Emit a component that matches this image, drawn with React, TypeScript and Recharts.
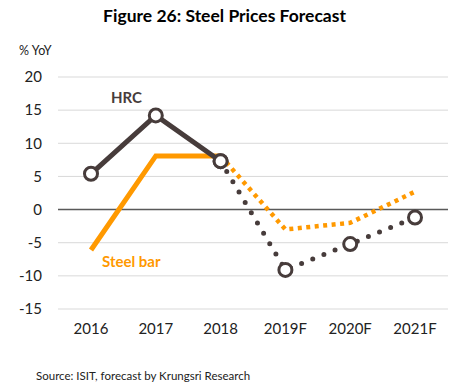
import { LineChart, Line, XAxis, YAxis, CartesianGrid, ReferenceLine } from 'recharts';

const years = ['2016', '2017', '2018', '2019F', '2020F', '2021F'];
const hrcActual = [5.4, 14.2, 7.3, null, null, null];
const hrcForecast = [null, null, 7.3, -9.1, -5.2, -1.2];
const steelActual = [-6.1, 8.1, 8.1, null, null, null];
const steelForecast = [null, null, 8.1, -3.0, -2.0, 2.7];
const yTicks = [-15, -10, -5, 0, 5, 10, 15, 20];

const data = years.map((year, i) => ({
    year,
    hrcActual: hrcActual[i],
    hrcForecast: hrcForecast[i],
    steelActual: steelActual[i],
    steelForecast: steelForecast[i],
}));

const HRC = '#473c3b';
const ORANGE = '#ff9900';
const FONT = 'Lato, "Liberation Sans", sans-serif';

const HollowDot = (props: any) => {
    const { cx, cy, value, index } = props;
    if (value == null || cx == null || cy == null) return <g key={index} />;
    return <circle key={index} cx={cx} cy={cy} r={6.5} fill="#fff" stroke={HRC} strokeWidth={3} />;
};

const App = () => {
    return (
        <div style={{ position: 'absolute', left: 0, top: 0, width: 449, height: 391, background: '#fff', fontFamily: FONT }}>
            <div style={{ position: 'absolute', left: 0, top: 5, width: 449, textAlign: 'center', fontWeight: 700, fontSize: 17.5, color: '#000' }}>
                Figure 26: Steel Prices Forecast
            </div>
            <div style={{ position: 'absolute', left: 19, top: 43, fontSize: 12.5, color: '#222' }}>% YoY</div>
            <LineChart width={449} height={391} data={data} margin={{ top: 77, right: 1, left: 0, bottom: 52 }}>
                <CartesianGrid vertical={false} stroke="#d9d9d9" strokeWidth={1} />
                <XAxis
                    dataKey="year"
                    axisLine={false}
                    tickLine={false}
                    height={30}
                    tickMargin={8}
                    padding={{ left: 33, right: 33 }}
                    tick={{ fill: '#222', fontSize: 15, fontFamily: FONT }}
                />
                <YAxis
                    domain={[-15, 20]}
                    ticks={yTicks}
                    width={58}
                    axisLine={false}
                    tickLine={false}
                    tickMargin={10}
                    tick={{ fill: '#222', fontSize: 15, fontFamily: FONT }}
                />
                <ReferenceLine y={0} stroke="#595959" strokeWidth={1.5} />
                <Line dataKey="steelActual" stroke={ORANGE} strokeWidth={5} dot={false} isAnimationActive={false} connectNulls={false} />
                <Line dataKey="steelForecast" stroke={ORANGE} strokeWidth={4.5} strokeDasharray="4 4.5" dot={false} isAnimationActive={false} />
                <Line dataKey="hrcForecast" stroke={HRC} strokeWidth={5} strokeDasharray="0 12" strokeLinecap="round" dot={HollowDot} isAnimationActive={false} />
                <Line dataKey="hrcActual" stroke={HRC} strokeWidth={5} dot={HollowDot} isAnimationActive={false} />
            </LineChart>
            <div style={{ position: 'absolute', left: 111, top: 88, fontWeight: 700, fontSize: 15, color: HRC }}>HRC</div>
            <div style={{ position: 'absolute', left: 102, top: 252, fontWeight: 700, fontSize: 15, color: ORANGE }}>Steel bar</div>
            <div style={{ position: 'absolute', left: 36, top: 369, fontSize: 11.5, color: '#222' }}>Source: ISIT, forecast by Krungsri Research</div>
        </div>
    );
};

export default App;
